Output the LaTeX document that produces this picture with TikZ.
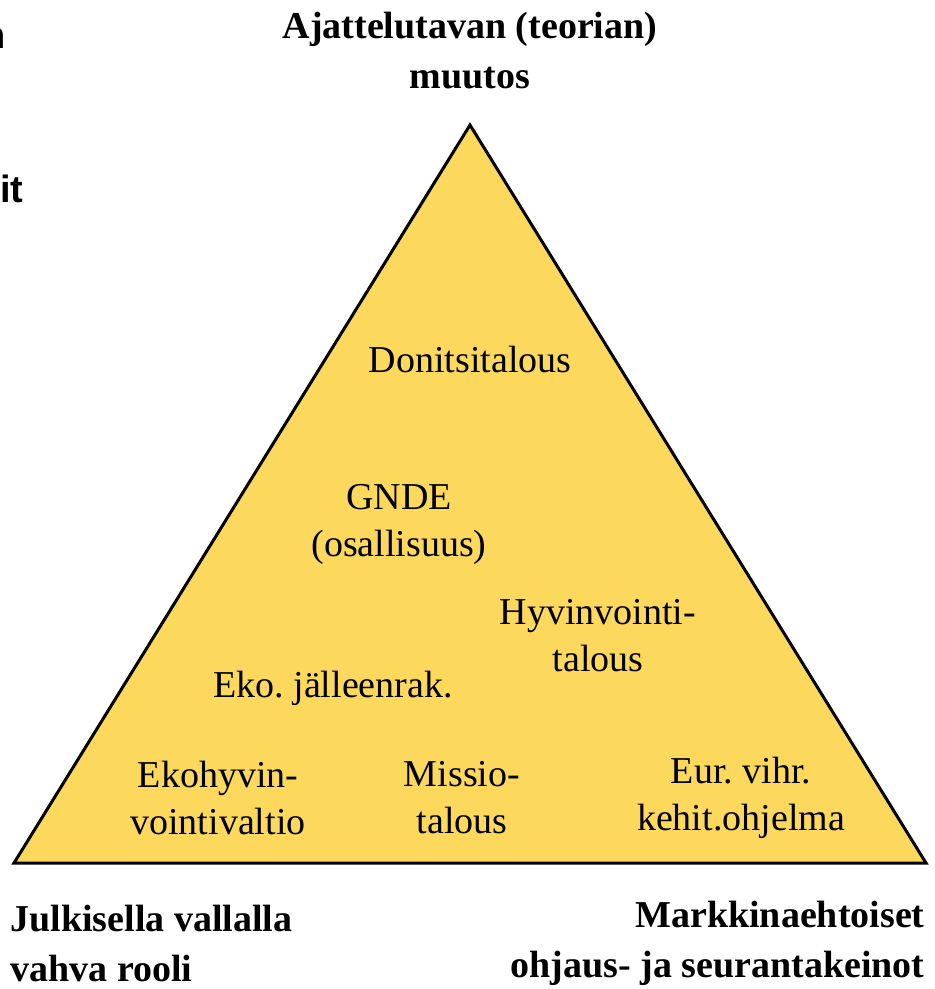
\documentclass[tikz,border=0pt]{standalone}
\usepackage{fontspec}
\setmainfont{Liberation Serif}
\newfontfamily\heavysans{Liberation Sans}
\definecolor{pyryellow}{RGB}{252,217,92}
\frenchspacing

\begin{document}
\begin{tikzpicture}[x=0.5pt,y=-0.5pt,
        lbl/.style={font=\fontsize{19}{23.5}\selectfont, align=center, inner sep=0pt},
        head/.style={font=\bfseries\fontsize{19}{25}\selectfont, inner sep=0pt},
        frag/.style={font=\heavysans\bfseries\fontsize{19}{22}\selectfont, inner sep=0pt}]
        \useasboundingbox (0,0) rectangle (935,989);

        \coordinate (apex) at (470,125);
        \coordinate (baseL) at (14,863);
        \coordinate (baseR) at (926,863);
        \draw[line width=1.5pt, fill=pyryellow, line join=miter] (apex) -- (baseR) -- (baseL) -- cycle;

        \node[head, align=center] (change) at (470,51) {Ajattelutavan (teorian)\\muutos};

        \node[lbl] (donut) at (470,360) {Donitsitalous};
        \node[lbl] (gnde) at (399,524) {GNDE\\(osallisuus)};
        \node[lbl] (wellbeing) at (598,636) {Hyvinvointi-\\talous};
        \node[lbl] (ekorak) at (333,688) {Eko. j\"alleenrak.};
        \node[lbl] (ekostate) at (218,798) {Ekohyvin-\\vointivaltio};
        \node[lbl] (mission) at (462,798) {Missio-\\talous};
        \node[lbl] (eurgreen) at (741,798) {Eur. vihr.\\kehit.ohjelma};

        \node[head, align=left, anchor=west] (public) at (10,943) {Julkisella vallalla\\vahva rooli};
        \node[head, align=right, anchor=east] (market) at (925,943) {Markkinaehtoiset\\ohjaus- ja seurantakeinot};

        \node[frag, anchor=east] (fragn) at (6,38) {n};
        \node[frag, anchor=east] (fragit) at (24,189) {it};
\end{tikzpicture}
\end{document}
